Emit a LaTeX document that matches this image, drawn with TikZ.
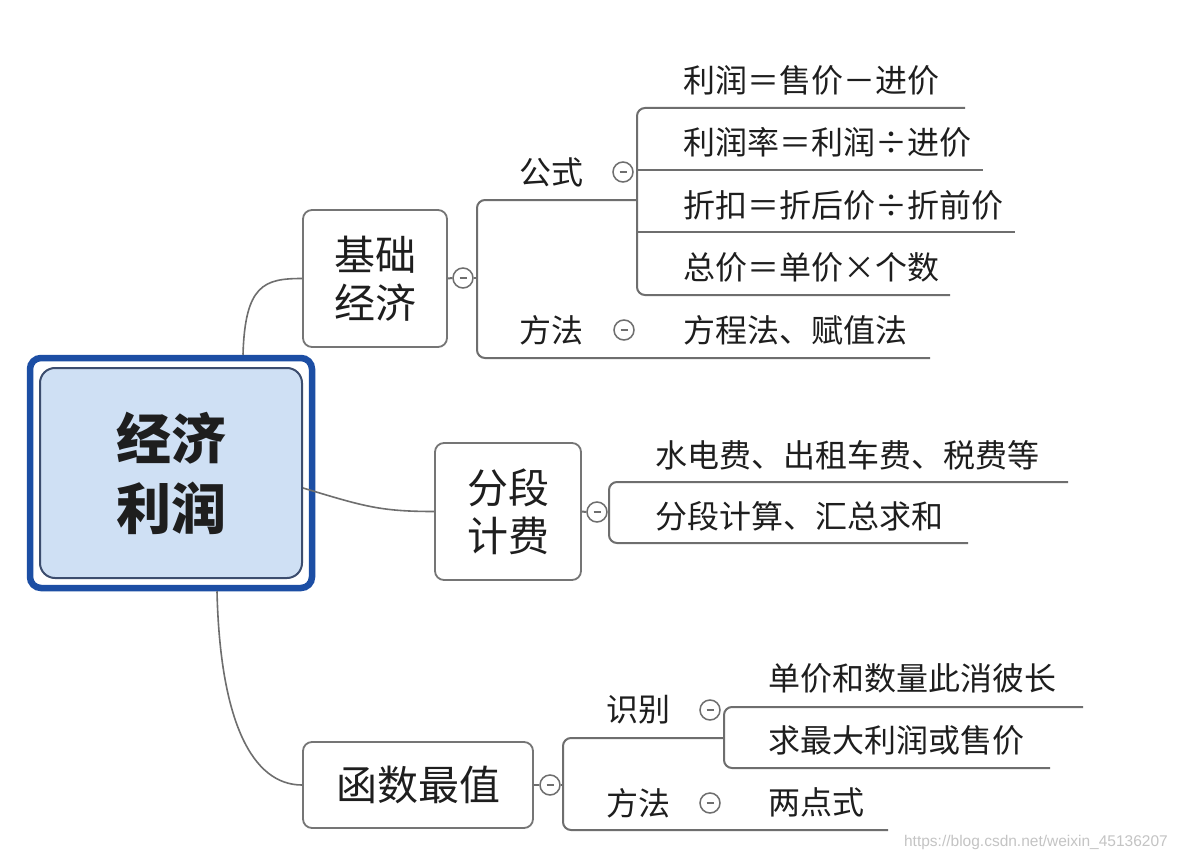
\documentclass[tikz,border=0pt]{standalone}
\usepackage{fontspec}
\newfontfamily\cjk{Noto Sans CJK SC}
\newfontfamily\wmfont{Liberation Sans}
\definecolor{linegray}{HTML}{6E6E6E}
\definecolor{boxgray}{HTML}{757575}
\definecolor{txtcol}{HTML}{1E1E1E}
\definecolor{rootfill}{HTML}{CFE0F4}
\definecolor{rootline}{HTML}{3C4D6E}
\definecolor{rootouter}{HTML}{1C4EA4}
\definecolor{wmgray}{HTML}{C4C4C4}
\begin{document}
\begin{tikzpicture}[x=1pt,y=-1pt,
  line/.style={draw=linegray, line width=2pt},
  topic/.style={draw=boxgray, line width=1.8pt, rounded corners=9pt, fill=white, inner sep=0pt, align=center, text=txtcol, font=\cjk\fontsize{41}{48}\selectfont},
  leaf/.style={inner sep=0pt, text=txtcol, font=\cjk\fontsize{32}{32}\selectfont},
  circ/.style={circle, draw=linegray, line width=1.5pt, fill=white, minimum size=20pt, inner sep=0pt,
    path picture={\draw[linegray, line width=1.2pt] ([xshift=-3.5pt]path picture bounding box.center) -- ([xshift=3.5pt]path picture bounding box.center);}}
]
\useasboundingbox (0,0) rectangle (1177,861);
\fill[white] (0,0) rectangle (1177,861);

% root
\node[draw=rootouter, line width=6.5pt, rounded corners=11pt, minimum width=282pt, minimum height=230pt, inner sep=0pt] (rootframe) at (171,473) {};
\node[draw=rootline, fill=rootfill, line width=2pt, rounded corners=15pt, minimum width=262pt, minimum height=210pt, inner sep=0pt, align=center, text=txtcol, font=\cjk\bfseries\fontsize{55}{70}\selectfont] (root) at (171,473) {经济\\利润};

% main topics
\node[topic, minimum width=144pt, minimum height=137pt] (b1) at (375,278.5) {基础\\经济};
\node[topic, minimum width=146pt, minimum height=137pt] (b2) at (508,511.5) {分段\\计费};
\node[topic, minimum width=230pt, minimum height=86pt] (b3) at (418,785) {函数最值};

% connectors from root
\draw[line, line width=1.6pt] ([xshift=72pt]rootframe.north) .. controls +(2,-70) and +(-38,0) .. (b1.west);
\draw[line, line width=1.6pt] ([yshift=-15pt]root.east) .. controls +(60,18) and +(-55,0) .. (b2.west);
\draw[line, line width=1.6pt] ([xshift=46pt]rootframe.south) .. controls +(3,130) and +(-50,0) .. (b3.west);

% ---------- branch 1: 基础经济 ----------
\node[circ] (k1) at (463,278) {};
\coordinate (j1) at (477,278);
\coordinate (g1) at (637,200);
\coordinate (m1) at (930,358);
\draw[line] (b1.east) -- (k1.west);
\draw[line] (k1.east) -- (j1);
\draw[line, rounded corners=8pt] (g1) -| (j1) |- (m1);

\node[leaf] (gs) at (551,172) {公式};
\node[circ] (kg) at (623,172) {};
\node[leaf] (ff) at (551,330) {方法};
\node[circ] (kf) at (624,330) {};
\node[leaf, anchor=west] (fm) at (683,330) {方程法、赋值法};

\coordinate (fe1) at (965,108);
\coordinate (fs2) at (637,170);
\coordinate (fe2) at (983,170);
\coordinate (fs3) at (637,232);
\coordinate (fe3) at (1015,232);
\coordinate (fe4) at (950,295);
\draw[line, rounded corners=8pt] (fe1) -| (g1) |- (fe4);
\draw[line] (fs2) -- (fe2);
\draw[line] (fs3) -- (fe3);
\node[leaf, anchor=west] (f1) at (683,80) {利润＝售价－进价};
\node[leaf, anchor=west] (f2) at (683,142) {利润率＝利润÷进价};
\node[leaf, anchor=west] (f3) at (683,205) {折扣＝折后价÷折前价};
\node[leaf, anchor=west] (f4) at (683,267) {总价＝单价×个数};

% ---------- branch 2: 分段计费 ----------
\node[circ] (k2) at (597,512) {};
\coordinate (j2) at (609,512);
\coordinate (s1) at (1068,482);
\coordinate (s2) at (968,543);
\draw[line] (b2.east) -- (k2.west);
\draw[line] (k2.east) -- (j2);
\draw[line, rounded corners=8pt] (s1) -| (j2) |- (s2);
\node[leaf, anchor=west] (p1) at (655,455) {水电费、出租车费、税费等};
\node[leaf, anchor=west] (p2) at (655,516) {分段计算、汇总求和};

% ---------- branch 3: 函数最值 ----------
\node[circ] (k3) at (550,785) {};
\coordinate (j3) at (563,785);
\coordinate (h1) at (724,738);
\coordinate (h2) at (888,830);
\draw[line] (b3.east) -- (k3.west);
\draw[line] (k3.east) -- (j3);
\draw[line, rounded corners=8pt] (h1) -| (j3) |- (h2);

\node[leaf] (sb) at (638,710) {识别};
\node[circ] (ks) at (710,710) {};
\node[leaf] (ff3) at (638,803) {方法};
\node[circ] (kf3) at (710,803) {};
\node[leaf, anchor=west] (q3) at (768,802) {两点式};

\coordinate (u1) at (1083,707);
\coordinate (u2) at (1050,768);
\draw[line, rounded corners=8pt] (u1) -| (h1) |- (u2);
\node[leaf, anchor=west] (q1) at (768,678) {单价和数量此消彼长};
\node[leaf, anchor=west] (q2) at (768,740) {求最大利润或售价};

% watermark
\node[anchor=east, inner sep=0pt, text=wmgray, font=\wmfont\fontsize{15.5}{16}\selectfont] (wm) at (1168,842) {https://blog.csdn.net/weixin\_45136207};
\end{tikzpicture}
\end{document}
